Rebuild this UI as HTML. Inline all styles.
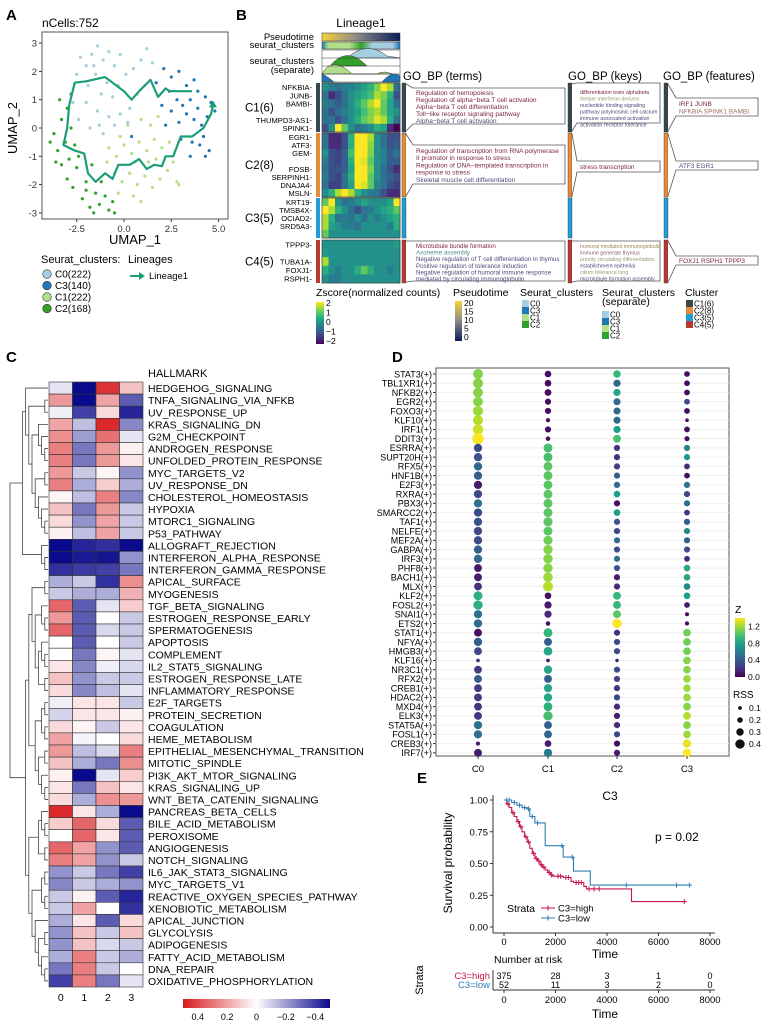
<!DOCTYPE html>
<html><head><meta charset="utf-8">
<style>
html,body{margin:0;padding:0;background:#fff;}
svg{display:block;font-family:"Liberation Sans",Arial,sans-serif;}
</style></head>
<body>
<svg id="fig" width="766" height="1023" viewBox="0 0 766 1023" xmlns="http://www.w3.org/2000/svg">
<g id="gA"></g>
<g id="gB"></g>
<g id="gC"></g>
<g id="gD"></g>
<g id="gE"></g>
</svg>
<script>
// ---------- DATA ----------
const umapC0 = [[-2.3,2.5],[-2,2.2],[-1.7,2.6],[-1.4,2.9],[-1.1,2.4],[-0.8,2.7],[-0.5,2.2],[-2.5,1.9],[-1.9,1.5],[-1.5,1.9],[-1.2,1.2],[-0.9,1.6],[-0.6,1.1],[-0.3,1.5],[0.1,1.9],[0.5,2.1],[0.9,2.4],[1.2,2.8],[1.5,2.3],[1.1,1.5],[0.3,0.7],[-0.2,0.5],[-0.8,0.4],[-1.4,0.6],[-2,0.9],[-2.4,0.3],[-1.8,0],[-1.1,-0.2],[-0.5,0.1],[0.2,0.2],[-1.6,2.2],[-2.7,0.9],[0.7,1.2],[-0.2,2.6],[-1.3,0.1]];
const umapC3 = [[2.1,2.1],[2.5,1.8],[2.9,2],[3.3,1.5],[3.7,1.7],[2.4,1.3],[2.8,1],[3.1,0.8],[3.5,1],[3.9,0.7],[4.3,1.1],[4.6,0.9],[4.4,0.4],[4.1,0.1],[3.7,0.3],[3.3,0.5],[2.9,0.2],[2.5,0.6],[2.2,0.1],[3,-0.4],[3.6,-0.5],[4.2,-0.3],[4.5,-0.8],[4.3,-1],[3.5,-1],[4.8,0.6],[2,0.8],[1.7,1.6],[3.9,1.3],[4,-0.6],[0.4,-0.3]];
const umapC1 = [[-0.8,-0.7],[-0.4,-1],[0,-0.6],[0.4,-0.9],[0.8,-0.5],[1.2,-0.8],[1.6,-0.4],[2,-0.7],[2.4,-0.5],[-0.5,-1.6],[-0.1,-1.9],[0.3,-1.6],[0.7,-2],[1.1,-1.7],[1.5,-2.1],[1.9,-1.8],[2.3,-1.5],[0.5,-2.4],[0.9,-2.6],[-0.3,-2.3],[0.2,0.1],[0.9,0.3],[1.4,0.1],[1.8,0.4],[-0.9,-1.2],[2.8,-1.9],[2.9,-2],[0.6,-1.2],[1.3,-1.2],[-0.2,-0.3],[1.7,-1.1],[2.6,-1.2]];
const umapC2 = [[-3.9,-0.5],[-3.7,-0.2],[-3.5,-0.8],[-3.3,0.3],[-3.1,-0.5],[-2.9,-1.1],[-3.3,-1.3],[-3,-1.8],[-2.7,-2.1],[-2.5,-1.4],[-2.2,-2.5],[-2,-1.9],[-1.8,-2.8],[-1.5,-2.3],[-1.3,-2.7],[-1,-2.4],[-0.8,-2.9],[-0.6,-2.6],[-1.2,-1.9],[-2.6,-0.6],[-3,0.7],[-2.8,1.2],[-3.4,1.0],[-2.4,-1],[-1.7,-1.3],[-0.5,-3],[-2,-2.2],[-3.6,-1.2],[-2.8,0],[-1.6,-3]];
const lineageX = [3.6,2.4,2.2,1.8,1.4,0.8,0.4,0,-1,-2,-2.6,-2.9,-3.0,-3.2,-2.6,-2.1,-1.9,-1.5,-1,-0.6,-0.3,0.3,0.8,1.2,1.6,2.0,2.2,2.6,3.0,3.6,4.2,4.6,4.7];
const lineageY = [1.3,1.3,1.4,1.1,1.7,1.3,1.0,1.3,1.8,1.65,1.6,0.8,0,-0.6,-0.8,-0.9,-1.6,-1.9,-1.6,-1.8,-1.3,-1.3,-1.1,-1.45,-1.3,-1.35,-1.0,-1.0,-0.3,-0.3,0,0.5,0.8];
const umapXTicks = [-2.5,0,2.5,5];
const umapYTicks = [-3,-2,-1,0,1,2,3];

const bGenes = [["NFKBIA","JUNB","BAMBI","","THUMPD3-AS1","SPINK1"],["EGR1","ATF3","GEM","","FOSB","SERPINH1","DNAJA4","MSLN"],["KRT19","TMSB4X","OCIAD2","SRD5A3",""],["TPPP3","","TUBA1A","FOXJ1","RSPH1"]];
const bClusterNames = ["C1(6)","C2(8)","C3(5)","C4(5)"];
const bRows = [
[0,-0.3,-0.5,-0.3,-0.2,0,0.3,0.6,1.2,2,1.5,-0.5],
[-0.5,-1.5,-1,-0.5,0,0.3,0.5,0.8,1.5,1.2,0.5,-1],
[-0.3,-0.5,-0.8,-0.5,0,0.5,1,1.5,2,1,0.3,-0.5],
[-0.5,-1,-0.5,-0.3,0,0.3,0.8,1.2,1.5,1,0.3,0],
[-0.5,-0.5,-1,-0.5,0,0.5,1,1.3,1.8,1.5,0.5,-0.5],
[-1,0,2,1,0,-0.5,-0.3,0,0.5,0.3,-1.5,-2],
[-0.5,-1.5,-1.5,-1,0.5,2,2,1.5,0,-0.5,-1,-1],
[-0.5,-1.5,-1.5,-1,0.5,2,2,1.3,0,-0.5,-1,-0.8],
[0,-1,-1.2,-0.8,0.8,2,2,1.2,0,-0.3,-0.8,-0.5],
[-0.3,-1,-1.2,-0.8,0.5,2,1.8,1,0,-0.3,-0.8,-0.8],
[-0.5,-1,-1,-0.8,0.3,2,2,1.2,0,-0.5,-1,-1.5],
[-0.3,-1,-1.2,-0.5,0.5,2,2,1,0,-0.5,-0.8,-1],
[-0.5,-1.2,-1.2,-0.5,0.3,2,1.8,1,-0.2,-0.5,-1,-1.2],
[0,0.5,1.5,2,1.5,0.5,0,-0.3,-0.5,-1,-1.5,-1.5],
[1,2,0,-0.5,-0.3,0,0.3,0,0,0,0.3,2],
[2,1.5,0.5,0,-0.5,-1,-0.5,-0.3,0,0.3,0.5,1],
[1.5,0.5,-0.5,-0.3,-0.5,0,-0.5,0,-0.3,0,0.3,0.5],
[1.5,0.3,0,-0.3,-0.3,-0.5,0,0,0,0,-0.3,0.5],
[1,0,0,0,0,0,0,0,0,0,0,0],
[0,0,0,0,0,0,0,0,0,0,0,0.2],
[0.2,0,0,0,0,0,0,0,0,0,0,0],
[1.5,0,0,0,0,0,0,0,0,0,0,0],
[0.5,0,-0.3,0,0,0.5,1,0.5,0,0,-0.3,0],
[0,-0.3,-0.3,0,0,0,0,0,0,0,0,0]];

const hmTerms = ["HEDGEHOG_SIGNALING","TNFA_SIGNALING_VIA_NFKB","UV_RESPONSE_UP","KRAS_SIGNALING_DN","G2M_CHECKPOINT","ANDROGEN_RESPONSE","UNFOLDED_PROTEIN_RESPONSE","MYC_TARGETS_V2","UV_RESPONSE_DN","CHOLESTEROL_HOMEOSTASIS","HYPOXIA","MTORC1_SIGNALING","P53_PATHWAY","ALLOGRAFT_REJECTION","INTERFERON_ALPHA_RESPONSE","INTERFERON_GAMMA_RESPONSE","APICAL_SURFACE","MYOGENESIS","TGF_BETA_SIGNALING","ESTROGEN_RESPONSE_EARLY","SPERMATOGENESIS","APOPTOSIS","COMPLEMENT","IL2_STAT5_SIGNALING","ESTROGEN_RESPONSE_LATE","INFLAMMATORY_RESPONSE","E2F_TARGETS","PROTEIN_SECRETION","COAGULATION","HEME_METABOLISM","EPITHELIAL_MESENCHYMAL_TRANSITION","MITOTIC_SPINDLE","PI3K_AKT_MTOR_SIGNALING","KRAS_SIGNALING_UP","WNT_BETA_CATENIN_SIGNALING","PANCREAS_BETA_CELLS","BILE_ACID_METABOLISM","PEROXISOME","ANGIOGENESIS","NOTCH_SIGNALING","IL6_JAK_STAT3_SIGNALING","MYC_TARGETS_V1","REACTIVE_OXYGEN_SPECIES_PATHWAY","XENOBIOTIC_METABOLISM","APICAL_JUNCTION","GLYCOLYSIS","ADIPOGENESIS","FATTY_ACID_METABOLISM","DNA_REPAIR","OXIDATIVE_PHOSPHORYLATION"];
const hmGroups = ["0","1","2","3"];
const hmValues = [
[-0.05,-0.45,0.4,0.12],[0.2,-0.5,0.18,-0.3],[-0.03,-0.35,0.07,-0.4],[0.18,-0.12,0.42,-0.22],[0.22,-0.18,0.28,-0.05],[0.25,-0.25,0.2,0.03],[0.25,-0.25,0.2,0.05],[0.2,-0.1,0.02,-0.2],[0.25,-0.15,0.1,-0.15],[0.02,-0.12,0.25,-0.22],[0.12,-0.25,0.2,-0.1],[0.07,-0.2,0.18,-0.1],[0.03,-0.12,0.18,-0.1],[-0.45,-0.4,-0.38,-0.45],[-0.45,-0.42,-0.43,-0.2],[-0.38,-0.36,-0.35,-0.25],[-0.15,-0.1,-0.38,0.22],[-0.1,-0.15,-0.15,0.15],[0.3,-0.3,-0.05,0.1],[0.2,-0.3,0.0,-0.1],[0.3,-0.3,-0.07,-0.1],[0.0,-0.3,0.0,-0.1],[0.0,-0.25,0.02,-0.05],[0.05,-0.22,-0.03,-0.07],[0.12,-0.2,-0.1,-0.1],[0.07,-0.22,-0.12,-0.05],[-0.03,0.05,0.05,-0.1],[-0.08,0.05,0.05,0.03],[0.07,0.02,-0.1,0.05],[0.18,-0.02,0.0,0.07],[0.2,-0.12,-0.07,0.25],[0.12,-0.15,-0.25,0.22],[0.03,-0.45,-0.05,0.1],[0.05,-0.25,0.12,0.05],[0.07,-0.15,0.22,0.2],[0.42,0.05,-0.15,-0.45],[0.1,0.3,0.07,-0.3],[0.0,0.3,0.05,-0.3],[0.3,0.18,-0.2,-0.3],[0.25,0.18,-0.2,-0.1],[-0.2,-0.1,-0.25,-0.35],[-0.22,-0.1,-0.15,-0.2],[-0.1,0.03,-0.3,-0.4],[-0.1,0.18,0.0,-0.38],[-0.15,0.05,-0.3,0.07],[-0.2,0.12,-0.1,0.12],[-0.2,0.12,-0.07,-0.1],[-0.15,0.25,-0.1,-0.15],[-0.25,0.25,-0.1,0.0],[-0.35,0.25,-0.25,-0.05]];
const hmTree = [[[0,[[1,2],[[3,[4,[5,6]]],[[7,8],[9,[10,[11,12]]]]]]],[13,[14,15]]],[[[[16,17],[[18,[19,20]],[[21,[22,23]],[24,25]]]],[[[26,27],[28,29]],[[30,31],[32,[33,34]]]]],[[[35,[36,37]],[38,39]],[[[40,41],[42,43]],[44,[[45,46],[47,[48,49]]]]]]]];
const hmLegendTicks = [0.4,0.2,0,-0.2,-0.4];

const dotTFs = ["STAT3","TBL1XR1","NFKB2","EGR2","FOXO3","KLF10","IRF1","DDIT3","ESRRA","SUPT20H","RFX5","HNF1B","E2F3","RXRA","PBX3","SMARCC2","TAF1","NELFE","MEF2A","GABPA","IRF3","PHF8","BACH1","MLX","KLF2","FOSL2","SNAI1","ETS2","STAT1","NFYA","HMGB3","KLF16","NR3C1","RFX2","CREB1","HDAC2","MXD4","ELK3","STAT5A","FOSL1","CREB3","IRF7"];
const dotClusters = ["C0","C1","C2","C3"];
const zC0 = [1.1,1.1,1.1,1.1,1.15,1.2,1.25,1.4,0.3,0.35,0.45,0.4,0.1,0.3,0.5,0.3,0.35,0.3,0.3,0.4,0.45,0.1,0.1,0.2,0.85,0.85,0.5,0.45,0.05,0.4,0.3,0.2,0.25,0.4,0.25,0.25,0.2,0.2,0.5,0.5,0.1,0.1];
const rssC0 = [0.38,0.38,0.38,0.37,0.38,0.38,0.4,0.45,0.3,0.3,0.3,0.3,0.3,0.3,0.3,0.3,0.3,0.3,0.3,0.3,0.3,0.28,0.28,0.28,0.33,0.35,0.3,0.3,0.28,0.3,0.28,0.08,0.28,0.28,0.28,0.28,0.28,0.28,0.3,0.3,0.1,0.28];
const zC1 = [0.05,0.05,0.05,0.05,0.05,0.05,0.05,0.05,0.95,0.95,1.0,1.0,1.0,1.0,1.0,1.0,1.0,1.0,1.05,1.1,1.1,1.1,1.15,1.2,0.05,0.1,0.15,0.05,0.9,0.4,0.8,0.1,0.8,0.4,0.8,0.8,0.85,0.95,0.4,0.45,0.1,0.55];
const rssC1 = [0.22,0.22,0.23,0.2,0.2,0.1,0.2,0.12,0.33,0.33,0.33,0.33,0.33,0.33,0.33,0.33,0.34,0.33,0.34,0.35,0.35,0.35,0.36,0.38,0.22,0.25,0.25,0.12,0.33,0.28,0.32,0.08,0.3,0.28,0.3,0.3,0.32,0.35,0.28,0.28,0.22,0.3];
const zC2 = [0.9,0.45,0.8,0.45,0.45,0.45,0.75,0.95,0.2,0.2,0.25,0.4,0.45,0.75,0.05,0.75,0.35,0.3,0.45,0.3,0.5,0.35,0.1,0.15,0.9,0.9,1.0,1.4,0.2,0.3,0.3,0.1,0.3,0.25,0.2,0.3,0.15,0.1,0.15,0.3,0.05,0.1];
const rssC2 = [0.26,0.25,0.25,0.24,0.24,0.24,0.25,0.28,0.2,0.2,0.2,0.2,0.2,0.22,0.2,0.22,0.2,0.2,0.2,0.2,0.2,0.2,0.2,0.2,0.28,0.28,0.28,0.35,0.2,0.2,0.2,0.07,0.2,0.2,0.2,0.2,0.2,0.2,0.2,0.2,0.2,0.2];
const zC3 = [0.05,0.05,0.05,0.3,0.05,0.05,0.05,0.05,0.6,0.7,0.15,0.05,0.5,0.3,0.5,0.2,0.4,0.65,0.4,0.3,0.15,0.8,0.8,0.65,0.75,0.1,0.05,0.05,1.05,1.05,1.05,1.1,1.1,1.15,1.15,1.15,1.1,1.2,1.1,1.15,1.3,1.35];
const rssC3 = [0.18,0.18,0.18,0.18,0.18,0.08,0.18,0.15,0.2,0.2,0.18,0.18,0.2,0.2,0.2,0.18,0.2,0.2,0.2,0.2,0.18,0.22,0.22,0.22,0.22,0.18,0.1,0.1,0.27,0.27,0.27,0.27,0.27,0.27,0.27,0.27,0.27,0.27,0.27,0.27,0.3,0.3];
const zLegendTicks = [0.0,0.4,0.8,1.2];
const rssLegend = [0.1,0.2,0.3,0.4];

const highTimes = [0,100,200,300,400,500,600,700,800,900,1000,1100,1200,1300,1400,1500,1600,1700,1800,1900,2000,2300,2600,2700,3100,3200,4950,7050];
const highSurv  = [1,0.97,0.94,0.9,0.87,0.83,0.79,0.75,0.71,0.67,0.62,0.58,0.54,0.52,0.49,0.47,0.45,0.43,0.41,0.40,0.40,0.39,0.36,0.35,0.32,0.30,0.20,0.20];
const lowTimes = [0,300,500,700,900,1000,1200,1600,2300,2700,3350,7250];
const lowSurv  = [1,0.98,0.96,0.94,0.93,0.87,0.82,0.64,0.55,0.44,0.33,0.33];
const highCensor = [150,350,550,650,850,950,1150,1250,1350,1450,1550,1750,1850,2100,2200,2400,2500,2800,2900,3000,3300,3500,3700,7000];
const lowCensor = [100,200,400,600,800,950,1100,1300,2250,2650,4750,6700,7200];
const riskHigh = [375,28,3,1,0];
const riskLow = [52,11,3,2,0];
const timeTicks = [0,2000,4000,6000,8000];
const survTicks = [0,0.25,0.5,0.75,1];

// ---------- HELPERS ----------
const NS="http://www.w3.org/2000/svg";
function mk(parent,tag,attrs,text){const e=document.createElementNS(NS,tag);for(const k in attrs)e.setAttribute(k,attrs[k]);if(text!==undefined)e.textContent=text;parent.appendChild(e);return e;}
const VIR=["#440154","#482878","#3e4989","#31688e","#26828e","#1f9e89","#35b779","#6ece58","#b5de2b","#fde725"];
function hex(h){return [parseInt(h.substr(1,2),16),parseInt(h.substr(3,2),16),parseInt(h.substr(5,2),16)];}
function viridis(t){t=Math.max(0,Math.min(1,t));const p=t*(VIR.length-1);const i=Math.min(VIR.length-2,Math.floor(p));const f=p-i;const a=hex(VIR[i]),b=hex(VIR[i+1]);return `rgb(${a.map((v,k)=>Math.round(v+(b[k]-v)*f)).join(",")})`;}
function divColor(v){const t=Math.min(1,Math.abs(v)/0.45);const c=v>=0?[215,25,28]:[10,10,140];return `rgb(${[0,1,2].map(k=>Math.round(255+(c[k]-255)*t)).join(",")})`;}

// ---------- PANEL A ----------
(function(){
const g=document.getElementById('gA');
const L=42,R=228,T=32,B=219;
const ax=v=>124+v*18.93, ay=v=>128-v*28.3;
mk(g,'text',{x:6,y:20,'font-size':15,'font-weight':'bold'},'A');
mk(g,'text',{x:42,y:27,'font-size':12},'nCells:752');
umapXTicks.forEach(v=>{mk(g,'line',{x1:ax(v),x2:ax(v),y1:B,y2:B+3,stroke:'#333'});const t=mk(g,'text',{x:ax(v),y:B+13,'font-size':9.5,'text-anchor':'middle',fill:'#333'},v.toFixed(1));});
umapYTicks.forEach(v=>{mk(g,'line',{x1:L-3,x2:L,y1:ay(v),y2:ay(v),stroke:'#333'});const t=mk(g,'text',{x:L-5,y:ay(v)+3.5,'font-size':9.5,'text-anchor':'end',fill:'#333'},String(v));});
const sets=[[umapC0,'#a6cee3'],[umapC3,'#1f78b4'],[umapC1,'#b2df8a'],[umapC2,'#33a02c']];
sets.forEach(([pts,col])=>pts.forEach(p=>{const c=mk(g,'circle',{cx:ax(p[0]),cy:ay(p[1]),r:1.6,fill:col});}));
let d='';lineageX.forEach((x,i)=>{d+=(i?'L':'M')+ax(x).toFixed(1)+','+ay(lineageY[i]).toFixed(1);});
const ln=mk(g,'path',{d:d,fill:'none',stroke:'#1b9e77',"stroke-width":2.2,'stroke-linejoin':'round'});

const n=lineageX.length;const ex=ax(lineageX[n-1]),ey=ay(lineageY[n-1]);
mk(g,'path',{d:`M${ex},${ey-5} L${ex-4},${ey+2} L${ex+4},${ey+2}Z`,fill:'#1b9e77'});
mk(g,'rect',{x:L,y:T,width:R-L,height:B-T,fill:'none',stroke:'#555','stroke-width':1});
mk(g,'text',{x:135,y:244,'font-size':13,'text-anchor':'middle'},'UMAP_1');
mk(g,'text',{x:17,y:128,'font-size':13,'text-anchor':'middle',transform:'rotate(-90 17 128)'},'UMAP_2');
mk(g,'text',{x:41,y:263,'font-size':11},'Seurat_clusters:');
mk(g,'text',{x:128,y:263,'font-size':11},'Lineages');
[['C0(222)','#a6cee3'],['C3(140)','#1f78b4'],['C1(222)','#b2df8a'],['C2(168)','#33a02c']].forEach((e,i)=>{const y=274+i*11.5;const gg=mk(g,'g',{});mk(gg,'circle',{cx:47,cy:y,r:4.3,fill:e[1],stroke:'#333','stroke-width':0.6});mk(gg,'text',{x:55,y:y+3.5,'font-size':10},e[0]);});
mk(g,'line',{x1:130,x2:142,y1:276,y2:276,stroke:'#1b9e77','stroke-width':2});
mk(g,'path',{d:'M139,272 L145,276 L139,280Z',fill:'#1b9e77'});
mk(g,'text',{x:149,y:279,'font-size':9.5},'Lineage1');
})();

// ---------- PANEL B ----------
(function(){
const g=document.getElementById('gB');
const HX=322,HW=78;
mk(g,'text',{x:236,y:20,'font-size':15,'font-weight':'bold'},'B');
mk(g,'text',{x:361,y:27,'font-size':12,'text-anchor':'middle'},'Lineage1');
const defs=mk(g,'defs',{});
const pg=mk(defs,'linearGradient',{id:'pt'});[['0','#f5d33a'],['0.45','#8a8a8a'],['1','#0c1e58']].forEach(s=>mk(pg,'stop',{offset:s[0],'stop-color':s[1]}));
const sg=mk(defs,'linearGradient',{id:'sc'});[['0','#1f78b4'],['0.08','#b2df8a'],['0.35','#b2df8a'],['0.5','#33a02c'],['0.65','#a6cee3'],['0.9','#a6cee3'],['1','#1f78b4']].forEach(s=>mk(sg,'stop',{offset:s[0],'stop-color':s[1]}));
const vg=mk(defs,'linearGradient',{id:'vir',x1:0,y1:1,x2:0,y2:0});VIR.forEach((c,i)=>mk(vg,'stop',{offset:i/(VIR.length-1),'stop-color':c}));
const pg2=mk(defs,'linearGradient',{id:'ptv',x1:0,y1:1,x2:0,y2:0});[['0','#0c1e58'],['0.5','#8a8a8a'],['1','#f5d33a']].forEach(s=>mk(pg2,'stop',{offset:s[0],'stop-color':s[1]}));
mk(g,'rect',{x:HX,y:33,width:HW,height:8,fill:'url(#pt)',stroke:'#333','stroke-width':0.5});
mk(g,'rect',{x:HX,y:42,width:HW,height:7,fill:'url(#sc)',stroke:'#333','stroke-width':0.5});
mk(g,'text',{x:314,y:40,'font-size':9.5,'text-anchor':'end'},'Pseudotime');
mk(g,'text',{x:314,y:48,'font-size':9.5,'text-anchor':'end'},'seurat_clusters');
mk(g,'text',{x:314,y:64,'font-size':9.5,'text-anchor':'end'},'seurat_clusters');
mk(g,'text',{x:314,y:73,'font-size':9.5,'text-anchor':'end'},'(separate)');
const rg=mk(g,'g',{});
mk(rg,'rect',{x:HX,y:50,width:HW,height:32,fill:'#fff',stroke:'#333','stroke-width':0.5});
mk(rg,'path',{d:`M${HX+25},58 Q${HX+45},40 ${HX+65},56 L${HX+78},58 L${HX+25},58Z`,fill:'#a6cee3',stroke:'#333','stroke-width':0.5});
mk(rg,'path',{d:`M${HX+8},66 Q${HX+25},45 ${HX+45},66Z`,fill:'#33a02c',stroke:'#333','stroke-width':0.5});
mk(rg,'path',{d:`M${HX},74 Q${HX+10},55 ${HX+30},74 L${HX+55},74 Q${HX+62},70 ${HX+70},74Z`,fill:'#b2df8a',stroke:'#333','stroke-width':0.5});
mk(rg,'path',{d:`M${HX},82 L${HX},74 Q${HX+5},76 ${HX+12},82Z M${HX+60},82 Q${HX+70},70 ${HX+78},76 L${HX+78},82Z`,fill:'#1f78b4',stroke:'#333','stroke-width':0.5});
[58,66,74].forEach(y=>mk(rg,'line',{x1:HX,x2:HX+HW,y1:y,y2:y,stroke:'#333','stroke-width':0.5}));
const blocks=[[83,132],[133,197],[198,238],[240,283]];
const bcol=['#37474f','#e58b3a','#1f9ed8','#b83a33'];
let ri=0;
blocks.forEach((bl,bi)=>{
 const genes=bGenes[bi];const rh=(bl[1]-bl[0])/genes.length;
 genes.forEach((gn,j)=>{
  const row=bRows[ri];const cw=HW/row.length;
  row.forEach((v,k)=>{const c=mk(g,'rect',{x:HX+k*cw,y:bl[0]+j*rh,width:cw+0.4,height:rh+0.4,fill:viridis((v+2)/4)});});
  if(gn){const t=mk(g,'text',{x:312,y:bl[0]+j*rh+rh/2+3,'font-size':7.6,'text-anchor':'end'},gn+'-');}
  ri++;
 });
 mk(g,'rect',{x:HX,y:bl[0],width:HW,height:bl[1]-bl[0],fill:'none',stroke:'#444','stroke-width':0.7});
 const s=mk(g,'rect',{x:316,y:bl[0],width:4,height:bl[1]-bl[0],fill:bcol[bi]});
 const l=mk(g,'text',{x:245,y:(bl[0]+bl[1])/2+4,'font-size':11.5},bClusterNames[bi]);
 [402,568,664].forEach(x=>mk(g,'rect',{x:x,y:bl[0],width:4,height:bl[1]-bl[0],fill:bcol[bi],stroke:'#333','stroke-width':0.4}));
});
mk(g,'text',{x:403,y:80,'font-size':11.5},'GO_BP (terms)');
mk(g,'text',{x:568,y:80,'font-size':11.5},'GO_BP (keys)');
mk(g,'text',{x:663,y:80,'font-size':11.5},'GO_BP (features)');
function box(x1,y1,x2,y2,sx,by1,by2,name){const b=mk(g,'g',{});
 mk(b,'path',{d:`M${sx},${by1} L${x1},${y1} L${x2},${y1} L${x2},${y2} L${x1},${y2} L${sx},${by2}`,fill:'#fff',stroke:'#555','stroke-width':0.8});return b;}
const M='#7b2343',P='#4b4a7a';
function lines(b,x,y0,dy,arr,fs){arr.forEach((a,i)=>mk(b,'text',{x:x,y:y0+i*dy,'font-size':fs||6.6,fill:a[1]},a[0]));}
let b=box(413,88,565,124,406,84,131,'go-terms-c1');
lines(b,416,95,7,[['Regulation of hemopoiesis',M],['Regulation of alpha−beta T cell activation',M],['Alpha−beta T cell differentiation',M],['Toll−like receptor signaling pathway',M],['Alpha−beta T cell activation',P]]);
b=box(413,145,565,184,406,134,196,'go-terms-c2');
lines(b,416,153,7.2,[['Regulation of transcription from RNA polymerase',M],['II promotor in response to stress',M],['Regulation of DNA−templated transcription in',M],['response to stress',M],['Skeletal muscle cell differentiation',P]]);
b=box(413,241,565,281,406,241,282,'go-terms-c4');
lines(b,416,248,6.6,[['Microtubule bundle formation',M],['Axoneme assembly','#5a8a8a'],['Negative regulation of T cell differentiation in thymus',P],['Positive regulation of tolerance induction',P],['Negative regulation of humoral immune response',P],['mediated by circulating immunoglobulin',P]],6.2);
b=box(577,83,660,123,572,84,131,'go-keys-c1');
lines(b,580,94,6.5,[['differentiation  toxin  alphabeta',M],['thelper  interferon  derived','#9a9a70'],['nucleotide  binding  signaling',P],['pathway  polyinosinic  cell  calcium',P],['immune  associated  activation',P],['activation  receptor  tolerance',P]],5.3);
b=box(577,161,660,172,572,134,196,'go-keys-c2');
lines(b,580,169,7,[['stress  transcription',M]],6.5);
b=box(577,241,660,281,572,241,282,'go-keys-c4');
lines(b,580,248,6.5,[['humoral  mediated  immunoglobulin','#9a8a50'],['immune  generate  thymus','#8a5a7a'],['priority  circulating  differentiation','#9a9a70'],['establishment  epithelial',P],['cilium  tolerance  lung','#9a9a70'],['microtubule  formation  assembly',P]],5.3);
b=box(676,98,758,116,668,84,131,'go-features-c1');
lines(b,679,106,7.5,[['IRF1  JUNB',M],['NFKBIA  SPINK1  BAMBI','#a06a60']],6.5);
b=box(676,161,758,170,668,134,196,'go-features-c2');
lines(b,679,168,7,[['ATF3   EGR1',P]],6.5);
b=box(676,256,758,265,668,241,282,'go-features-c4');
lines(b,679,263,7,[['FOXJ1  RSPH1  TPPP3',M]],6.5);
mk(g,'text',{x:316,y:296,'font-size':10.5},'Zscore(normalized counts)');
mk(g,'rect',{x:316,y:302,width:8,height:42,fill:'url(#vir)'});
['2','1','0','−1','−2'].forEach((t,i)=>mk(g,'text',{x:326,y:306+i*9.5,'font-size':8.5},t));
mk(g,'text',{x:453,y:296,'font-size':10.5},'Pseudotime');
mk(g,'rect',{x:455,y:301,width:7,height:40,fill:'url(#ptv)'});
['20','15','10','5','0'].forEach((t,i)=>mk(g,'text',{x:464,y:306+i*8.5,'font-size':8.5},t));
mk(g,'text',{x:520,y:296,'font-size':10.5},'Seurat_clusters');
[['C0','#a6cee3'],['C3','#1f78b4'],['C1','#b2df8a'],['C2','#33a02c']].forEach((e,i)=>{mk(g,'rect',{x:522,y:300+i*7,width:7,height:7,fill:e[1]});mk(g,'text',{x:530,y:306.5+i*7,'font-size':8},e[0]);});
mk(g,'text',{x:602,y:296,'font-size':10.5},'Seurat_clusters');
mk(g,'text',{x:602,y:305,'font-size':10.5},'(separate)');
[['C0','#a6cee3'],['C3','#1f78b4'],['C1','#b2df8a'],['C2','#33a02c']].forEach((e,i)=>{mk(g,'rect',{x:602,y:311+i*7,width:7,height:7,fill:e[1]});mk(g,'text',{x:610,y:317.5+i*7,'font-size':8},e[0]);});
mk(g,'text',{x:685,y:296,'font-size':10.5},'Cluster');
bClusterNames.forEach((n,i)=>{mk(g,'rect',{x:686,y:300+i*7,width:7,height:7,fill:bcol[i]});mk(g,'text',{x:694,y:306.5+i*7,'font-size':8},n);});
})();

// ---------- PANEL C ----------
(function(){
const g=document.getElementById('gC');
const X0=49,CW=23.5,Y0=382,RH=12.1;
mk(g,'text',{x:6,y:362,'font-size':15,'font-weight':'bold'},'C');
mk(g,'text',{x:148,y:377,'font-size':11},'HALLMARK');
hmValues.forEach((row,i)=>{
 row.forEach((v,j)=>{const c=mk(g,'rect',{x:X0+j*CW,y:Y0+i*RH,width:CW,height:RH,fill:divColor(v),stroke:'#333','stroke-width':0.6});});
 const t=mk(g,'text',{x:148,y:Y0+i*RH+RH/2+4,'font-size':10.5},hmTerms[i]);
});
hmGroups.forEach((gr,j)=>{const t=mk(g,'text',{x:X0+j*CW+CW/2,y:1001,'font-size':10.5,'text-anchor':'middle'},gr);});
const dg=mk(g,'g',{fill:'none',stroke:'#444','stroke-width':0.8});
function draw(n,isRoot){
 if(typeof n==='number')return {y:Y0+n*RH+RH/2,x:48,h:0};
 const a=draw(n[0]),b=draw(n[1]);const h=Math.max(a.h,b.h)+1;const x=isRoot?10:Math.max(17,48-h*3.2);
 mk(dg,'path',{d:`M${a.x},${a.y} H${x} V${b.y} H${b.x}`});
 return {y:(a.y+b.y)/2,x:x,h:h};
}
draw(hmTree,true);
const defs=mk(g,'defs',{});const lg=mk(defs,'linearGradient',{id:'divg'});
[['0',divColor(0.45)],['0.5','#ffffff'],['1',divColor(-0.45)]].forEach(s=>mk(lg,'stop',{offset:s[0],'stop-color':s[1]}));
mk(g,'rect',{x:183,y:999,width:147,height:9,fill:'url(#divg)'});
hmLegendTicks.forEach(v=>{const x=256.5-v/0.45*73.5*0.9;mk(g,'text',{x:x,y:1020,'font-size':9,'text-anchor':'middle'},v===0?'0':(v<0?'−'+Math.abs(v):String(v)));});
})();

// ---------- PANEL D ----------
(function(){
const g=document.getElementById('gD');
const L=436,R=729,T=368,B=756;
const cx=[478,548,617,687];const y=i=>374+i*9.24;
const rr=s=>1+s*10.5;
const zmax=1.35;
mk(g,'text',{x:392,y:362,'font-size':15,'font-weight':'bold'},'D');
mk(g,'rect',{x:L,y:T,width:R-L,height:B-T,fill:'#fff',stroke:'#555','stroke-width':1});
dotTFs.forEach((tf,i)=>{mk(g,'line',{x1:L,x2:R,y1:y(i),y2:y(i),stroke:'#ebebeb','stroke-width':0.8});
 const t=mk(g,'text',{x:432,y:y(i)+3.3,'font-size':9,'text-anchor':'end'},tf+'(+)');
 mk(g,'line',{x1:433,x2:436,y1:y(i),y2:y(i),stroke:'#333'});});
const Z=[zC0,zC1,zC2,zC3],S=[rssC0,rssC1,rssC2,rssC3];
dotClusters.forEach((c,j)=>{
 Z[j].forEach((z,i)=>{const d=mk(g,'circle',{cx:cx[j],cy:y(i),r:rr(S[j][i]),fill:viridis(z/zmax)});});
 const t=mk(g,'text',{x:cx[j],y:772,'font-size':9.5,'text-anchor':'middle'},c);
 mk(g,'line',{x1:cx[j],x2:cx[j],y1:B,y2:B+3,stroke:'#333'});
});
mk(g,'text',{x:735,y:613,'font-size':10.5},'Z');
mk(g,'rect',{x:735,y:618,width:10,height:59,fill:'url(#vir)'});
zLegendTicks.forEach(v=>mk(g,'text',{x:748,y:677-v/1.4*59+3,'font-size':8.5},v.toFixed(1)));
mk(g,'text',{x:733,y:698,'font-size':10},'RSS');
rssLegend.forEach((v,i)=>{mk(g,'circle',{cx:740,cy:708+i*12,r:rr(v)*0.9,fill:'#111'});mk(g,'text',{x:749,y:711+i*12,'font-size':8.5},String(v));});
})();

// ---------- PANEL E ----------
(function(){
const g=document.getElementById('gE');
const tx=t=>504+t*0.02575, sy=s=>927-s*127;
mk(g,'text',{x:417,y:783,'font-size':15,'font-weight':'bold'},'E');
mk(g,'text',{x:610,y:800,'font-size':12,'text-anchor':'middle'},'C3');
mk(g,'line',{x1:493,x2:493,y1:795,y2:933,stroke:'#333'});
mk(g,'line',{x1:493,x2:715,y1:933,y2:933,stroke:'#333'});
survTicks.forEach(s=>{mk(g,'line',{x1:490,x2:493,y1:sy(s),y2:sy(s),stroke:'#333'});mk(g,'text',{x:488,y:sy(s)+3.5,'font-size':9.5,'text-anchor':'end'},s.toFixed(2));});
timeTicks.forEach(t=>{mk(g,'line',{x1:tx(t),x2:tx(t),y1:933,y2:936,stroke:'#333'});mk(g,'text',{x:tx(t),y:945,'font-size':9.5,'text-anchor':'middle'},String(t));
 mk(g,'line',{x1:tx(t),x2:tx(t),y1:990,y2:993,stroke:'#333'});mk(g,'text',{x:tx(t),y:1003,'font-size':9.5,'text-anchor':'middle'},String(t));});
mk(g,'text',{x:605,y:958,'font-size':12,'text-anchor':'middle'},'Time');
mk(g,'text',{x:452,y:863,'font-size':12,'text-anchor':'middle',transform:'rotate(-90 452 863)'},'Survival probability');
function step(ts,ss,col,name){let d=`M${tx(ts[0])},${sy(ss[0])}`;for(let i=1;i<ts.length;i++){d+=`H${tx(ts[i]).toFixed(1)}V${sy(ss[i]).toFixed(1)}`;}
 const p=mk(g,'path',{d:d,fill:'none',stroke:col,'stroke-width':1.1});}
function survAt(ts,ss,t){let s=ss[0];for(let i=0;i<ts.length;i++)if(ts[i]<=t)s=ss[i];return s;}
function cens(arr,ts,ss,col){arr.forEach(t=>{const x=tx(t),yy=sy(survAt(ts,ss,t));const m=mk(g,'path',{d:`M${x-2.5},${yy}H${x+2.5}M${x},${yy-2.5}V${yy+2.5}`,stroke:col,'stroke-width':1});});}
step(lowTimes,lowSurv,'#2f7fb5','curve-c3-low');
step(highTimes,highSurv,'#c8174a','curve-c3-high');
cens(lowCensor,lowTimes,lowSurv,'#2f7fb5');
cens(highCensor,highTimes,highSurv,'#c8174a');
mk(g,'text',{x:655,y:841,'font-size':12},'p = 0.02');
mk(g,'text',{x:507,y:912,'font-size':10.5},'Strata');
[['C3=high','#c8174a',908],['C3=low','#2f7fb5',918]].forEach(e=>{const gg=mk(g,'g',{});
 mk(gg,'path',{d:`M541,${e[2]}H555M548,${e[2]-2.5}V${e[2]+2.5}`,stroke:e[1],'stroke-width':1.1});mk(gg,'text',{x:558,y:e[2]+3.5,'font-size':9.5},e[0]);});
mk(g,'text',{x:494,y:963,'font-size':10.5},'Number at risk');
mk(g,'line',{x1:493,x2:493,y1:970,y2:990,stroke:'#333'});mk(g,'line',{x1:493,x2:715,y1:990,y2:990,stroke:'#333'});
mk(g,'text',{x:490,y:979,'font-size':9.5,'text-anchor':'end',fill:'#c8174a'},'C3=high');
mk(g,'text',{x:490,y:988,'font-size':9.5,'text-anchor':'end',fill:'#2f7fb5'},'C3=low');
mk(g,'text',{x:423,y:980,'font-size':11,'text-anchor':'middle',transform:'rotate(-90 423 980)'},'Strata');
timeTicks.forEach((t,i)=>{const a=mk(g,'text',{x:tx(t),y:979,'font-size':9,'text-anchor':'middle'},String(riskHigh[i]));
 const b=mk(g,'text',{x:tx(t),y:988,'font-size':9,'text-anchor':'middle'},String(riskLow[i]));});
mk(g,'text',{x:605,y:1018,'font-size':12,'text-anchor':'middle'},'Time');
})();
</script>
</body></html>
